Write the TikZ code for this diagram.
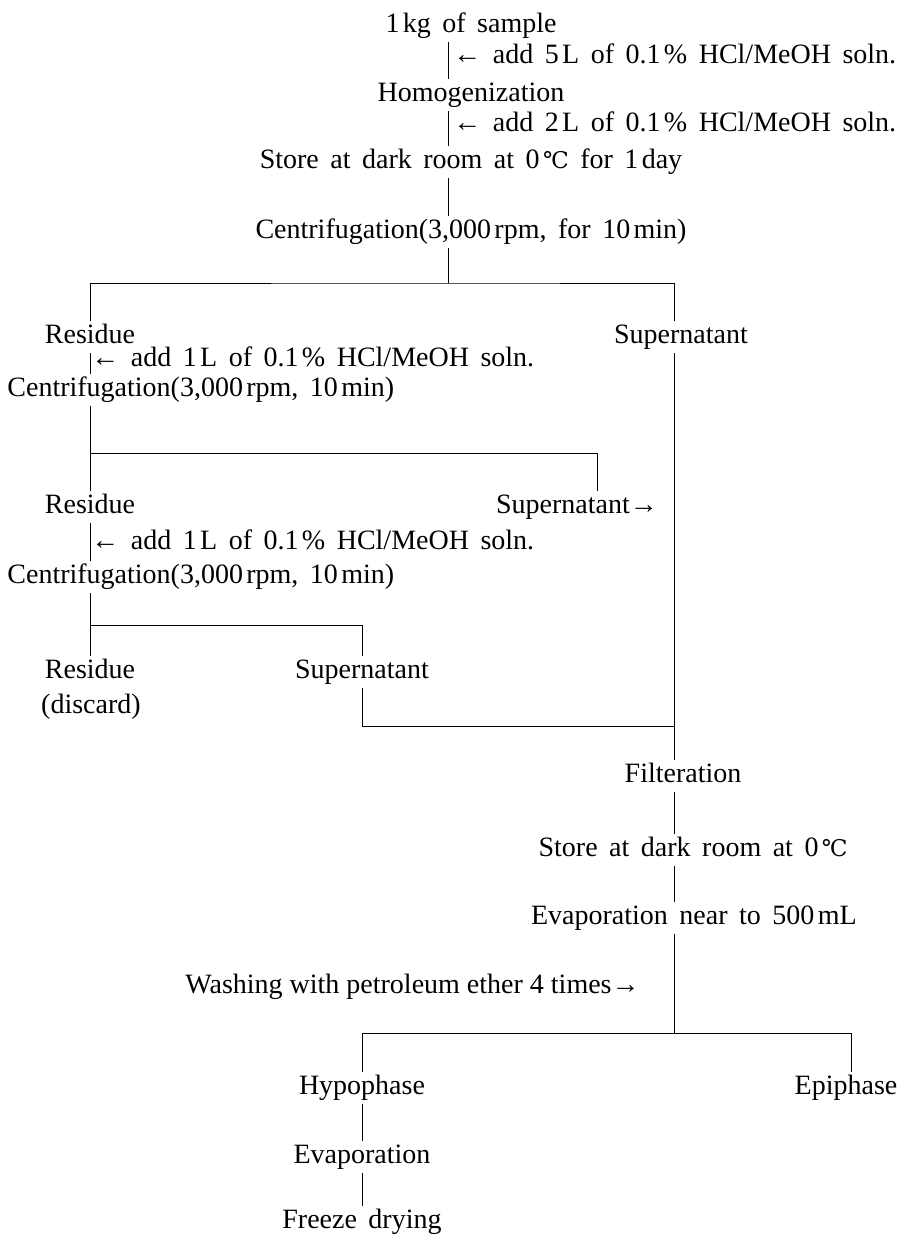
\documentclass[tikz,border=0pt]{standalone}
\usepackage{fontspec}
\setmainfont{Liberation Serif}
\newfontfamily\symfont{DejaVu Serif}
\newcommand{\degC}{{\symfont\fontsize{23}{28}\selectfont ℃}}
\newcommand{\ts}{\hspace{0.12em}}
\newcommand{\widesp}{\spaceskip=11.5pt plus 2pt minus 1pt\relax}
\newcommand{\normsp}{\spaceskip=0pt\relax}
\begin{document}
\begin{tikzpicture}[x=1pt,y=-1pt,line width=0.8pt,
  every node/.style={font=\fontsize{28}{34}\selectfont, inner sep=3pt, text height=19pt, text depth=6pt, execute at begin node=\widesp},
  lbl/.style={anchor=west}]
\useasboundingbox (0,0) rectangle (901,1236);
% column coordinates
\coordinate (xa) at (448,0);
\coordinate (xl) at (90,0);
\coordinate (xr) at (674,0);
\coordinate (xm) at (362,0);
\coordinate (xs) at (597,0);
\coordinate (xe) at (851,0);
% top column
\node (n1) at (471,26) {1\ts kg of sample};
\node[lbl] (a1) at (450,57) {← add 5\ts L of 0.1\ts\% HCl/MeOH soln.};
\node (n2) at (471,95) {Homogenization};
\node[lbl] (a2) at (450,125) {← add 2\ts L of 0.1\ts\% HCl/MeOH soln.};
\node (n3) at (471,162) {Store at dark room at 0\ts\degC\ for 1\ts day};
\node (n4) at (471,232) {Centrifugation(3,000\ts rpm, for 10\ts min)};
\draw (n1.south -| xa) -- (n2.north -| xa);
\draw (n2.south -| xa) -- (n3.north -| xa);
\draw (n3.south -| xa) -- (n4.north -| xa);
\coordinate (j1) at (448,283);
\draw (n4.south -| xa) -- (j1);
% first split
\node (res1) at (90,337) {Residue};
\node (sup1) at (681,337) {Supernatant};
\draw (res1.north -| xl) |- (j1) -| (sup1.north -| xr);
\node[lbl] (a3) at (88,360) {← add 1\ts L of 0.1\ts\% HCl/MeOH soln.};
\node[anchor=west] (cen2) at (4,390) {Centrifugation(3,000\ts rpm, 10\ts min)};
\draw (res1.south -| xl) -- (cen2.north -| xl);
% second split
\coordinate (j2) at (90,453);
\node (res2) at (90,507) {Residue};
\node (sup2) at (577,507) {Supernatant→};
\draw (cen2.south -| xl) -- (res2.north -| xl);
\draw (j2) -| (sup2.north -| xs);
\node[lbl] (a4) at (88,543) {← add 1\ts L of 0.1\ts\% HCl/MeOH soln.};
\node[anchor=west] (cen3) at (4,577) {Centrifugation(3,000\ts rpm, 10\ts min)};
\draw (res2.south -| xl) -- (cen3.north -| xl);
% third split
\coordinate (j3) at (90,625);
\node (res3) at (90,672) {Residue};
\node (dis) at (91,707) {(discard)};
\node (sup3) at (362,672) {Supernatant};
\draw (cen3.south -| xl) -- (res3.north -| xl);
\draw (j3) -| (sup3.north -| xm);
\coordinate (j4) at (674,726);
\draw (sup3.south -| xm) |- (j4);
% right trunk
\node (fil) at (683,776) {Filteration};
\draw (sup1.south -| xr) -- (fil.north -| xr);
\node[anchor=east] (st2) at (851,850) {Store at dark room at 0\ts\degC};
\node[anchor=east] (ev1) at (860,918) {Evaporation near to 500\ts mL};
\draw (fil.south -| xr) -- (st2.north -| xr);
\draw (st2.south -| xr) -- (ev1.north -| xr);
\node[anchor=east] (wash) at (643,987) {\normsp Washing with petroleum ether 4 times→};
\coordinate (j5) at (674,1033);
\draw (ev1.south -| xr) -- (j5);
% final split
\node (hypo) at (362,1088) {Hypophase};
\node (epi) at (846,1088) {Epiphase};
\draw (hypo.north -| xm) |- (j5) -| (epi.north -| xe);
\node (ev2) at (362,1157) {Evaporation};
\node (fd) at (362,1222) {Freeze drying};
\draw (hypo.south -| xm) -- (ev2.north -| xm);
\draw (ev2.south -| xm) -- (fd.north -| xm);
\end{tikzpicture}
\end{document}
